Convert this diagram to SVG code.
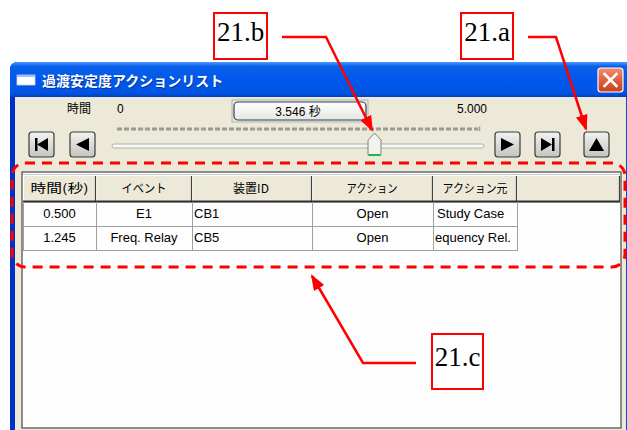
<svg xmlns="http://www.w3.org/2000/svg" width="627" height="430" viewBox="0 0 627 430">
<style>
.jp{font-family:"Noto Sans CJK JP","Noto Sans CJK SC",sans-serif;font-size:12px;fill:#000}
.ui{font-family:"Liberation Sans","Noto Sans CJK JP",sans-serif;font-size:12px;fill:#000}
.cell{font-family:"Liberation Sans","Noto Sans CJK JP",sans-serif;font-size:13px;fill:#000}
.call{font-family:"Liberation Serif","Times New Roman",serif;font-size:27px;fill:#000}
.cbox{fill:#fff;stroke:#f00;stroke-width:2}
.conn{fill:none;stroke:#f00;stroke-width:2.5;marker-end:url(#arr)}
.btn{fill:url(#btnG);stroke:#3a3a3a;stroke-width:1.2}
.glyph{fill:#000}
.hcell{fill:#ECE9D8;stroke:#9a9a90;stroke-width:1}
.grid{stroke:#a0a0a0;stroke-width:1}
</style>
<defs>
<linearGradient id="titleG" x1="0" y1="0" x2="0" y2="1">
<stop offset="0" stop-color="#4A9BFF"/>
<stop offset="0.12" stop-color="#0A61E8"/>
<stop offset="0.5" stop-color="#0058EE"/>
<stop offset="0.88" stop-color="#0054E3"/>
<stop offset="1" stop-color="#0040C0"/>
</linearGradient>
<linearGradient id="frameG" x1="0" y1="0" x2="1" y2="0">
<stop offset="0" stop-color="#0030C8"/>
<stop offset="0.5" stop-color="#1060F0"/>
<stop offset="1" stop-color="#0848D8"/>
</linearGradient>
<linearGradient id="closeG" x1="0" y1="0" x2="0" y2="1">
<stop offset="0" stop-color="#F09070"/>
<stop offset="0.5" stop-color="#E0603C"/>
<stop offset="1" stop-color="#C8401E"/>
</linearGradient>
<linearGradient id="btnG" x1="0" y1="0" x2="0" y2="1">
<stop offset="0" stop-color="#F2F2F0"/>
<stop offset="1" stop-color="#C4C4C0"/>
</linearGradient>
<linearGradient id="dispG" x1="0" y1="0" x2="0" y2="1">
<stop offset="0" stop-color="#FFFFFF"/>
<stop offset="1" stop-color="#E6E6E2"/>
</linearGradient>
<marker id="arr" markerWidth="16" markerHeight="12" refX="14" refY="6" orient="auto" markerUnits="userSpaceOnUse">
<path d="M0,0 L16,6 L0,12 Z" fill="#f00"/>
</marker>
<clipPath id="c5"><rect x="434" y="203" width="82" height="46"/></clipPath>
</defs>

<rect width="627" height="430" fill="#fff"/>

<!-- window -->
<g id="window">
<path d="M10,70 Q10,62 18,62 L627,62 L627,430 L10,430 Z" fill="url(#frameG)"/>
<path d="M10,70 Q10,62 18,62 L627,62 L627,97 L10,97 Z" fill="url(#titleG)"/>
<rect x="15" y="97" width="611" height="333" fill="#ECE9D8"/>
<g id="title-icon">
<rect x="17" y="75" width="18" height="10" fill="#fff" stroke="#c8d8f0" stroke-width="0.8"/>
<rect x="17" y="75" width="18" height="2" fill="#9cc0ff"/>
</g>
<text x="43" y="87" font-family="'Noto Sans CJK JP',sans-serif" font-size="14" font-weight="bold" fill="#0a2a80" opacity="0.7">過渡安定度アクションリスト</text>
<text x="42" y="86" font-family="'Noto Sans CJK JP',sans-serif" font-size="14" font-weight="bold" fill="#fff">過渡安定度アクションリスト</text>
<g id="close-button">
<rect x="598" y="68" width="25" height="24" rx="3" fill="url(#closeG)" stroke="#fff" stroke-width="1.2"/>
<path d="M604.5,74 L616.5,86 M616.5,74 L604.5,86" stroke="#fff" stroke-width="2.6" stroke-linecap="square"/>
</g>
</g>

<!-- toolbar -->
<g id="toolbar">
<text class="jp" x="67" y="113" font-size="14">時間</text>
<text class="ui" x="117" y="113">0</text>
<g id="time-display">
<rect x="232" y="100" width="136" height="22" fill="none" stroke="#b4b2a8" stroke-width="1"/>
<rect x="234" y="102" width="132" height="18" rx="4" fill="url(#dispG)" stroke="#2a4070" stroke-width="1.2"/>
<text class="ui" x="298" y="116" text-anchor="middle">3.546 秒</text>
</g>
<text class="ui" x="457" y="113">5.000</text>
<line x1="117" y1="129" x2="478" y2="129" stroke="#9c9c94" stroke-width="3" stroke-dasharray="5 2"/>
<line x1="479.5" y1="126.5" x2="479.5" y2="131" stroke="#9c9c94" stroke-width="1.5"/>
<rect x="112" y="144" width="372" height="4" rx="2" fill="#F8F8F6" stroke="#b0b0a8" stroke-width="1"/>
<g id="slider-thumb">
<path d="M368,140 L374.5,133 L381,140 L381,155 L368,155 Z" fill="#F2F2EE" stroke="#7c8a7c" stroke-width="1"/>
<line x1="368.5" y1="155" x2="380.5" y2="155" stroke="#22B14C" stroke-width="2"/>
</g>
<g id="btn-first">
<rect class="btn" x="29" y="132" width="25" height="25" rx="3"/>
<rect class="glyph" x="35" y="138" width="2.5" height="13"/>
<path class="glyph" d="M37,144.5 L48,138 L48,151 Z"/>
</g>
<g id="btn-prev">
<rect class="btn" x="70" y="132" width="25" height="25" rx="3"/>
<path class="glyph" d="M76,144.5 L89,138 L89,151 Z"/>
</g>
<g id="btn-next">
<rect class="btn" x="495" y="132" width="25" height="25" rx="3"/>
<path class="glyph" d="M514,144.5 L501,138 L501,151 Z"/>
</g>
<g id="btn-last">
<rect class="btn" x="535" y="132" width="25" height="25" rx="3"/>
<path class="glyph" d="M552,144.5 L541,138 L541,151 Z"/>
<rect class="glyph" x="552" y="138" width="2.5" height="13"/>
</g>
<g id="btn-up">
<rect class="btn" x="584" y="132" width="25" height="25" rx="3"/>
<path class="glyph" d="M596.5,138 L604,151 L589,151 Z"/>
</g>
</g>

<!-- list panel -->
<g id="action-list">
<rect x="22" y="172" width="599" height="256" fill="#FDFDFD" stroke="#6a6a6a" stroke-width="1.5"/>
<g id="table-header">
<rect class="hcell" x="23" y="175" width="73" height="27"/>
<rect class="hcell" x="96" y="175" width="96" height="27"/>
<rect class="hcell" x="192" y="175" width="120" height="27"/>
<rect class="hcell" x="312" y="175" width="121" height="27"/>
<rect class="hcell" x="433" y="175" width="84" height="27"/>
<rect class="hcell" x="517" y="175" width="103" height="27"/>
<path d="M23,175.5 H620 M23.5,175 V202 M96.5,175 V202 M192.5,175 V202 M312.5,175 V202 M433.5,175 V202 M517.5,175 V202" stroke="#fff" stroke-width="1"/>
<path d="M95.5,176 V202 M191.5,176 V202 M311.5,176 V202 M432.5,176 V202 M516.5,176 V202 M619.5,176 V202" stroke="#404040" stroke-width="1.2"/>
<line x1="23" y1="201.5" x2="620" y2="201.5" stroke="#303030" stroke-width="2"/>
<text class="jp" x="59.5" y="193" text-anchor="middle" font-size="13" textLength="58" lengthAdjust="spacingAndGlyphs">時間(秒)</text>
<text class="jp" x="144" y="193" text-anchor="middle" textLength="45" lengthAdjust="spacingAndGlyphs">イベント</text>
<text class="jp" x="251" y="193" text-anchor="middle" font-size="13">装置ID</text>
<text class="jp" x="372" y="193" text-anchor="middle" textLength="51" lengthAdjust="spacingAndGlyphs">アクション</text>
<text class="jp" x="475" y="193" text-anchor="middle" textLength="65" lengthAdjust="spacingAndGlyphs">アクション元</text>
</g>
<g id="table-rows">
<path class="grid" d="M23,226.5 H517 M23,250.5 H517 M23.5,202 V250 M96.5,202 V250 M192.5,202 V250 M312.5,202 V250 M433.5,202 V250 M517.5,202 V251" fill="none"/>
<text class="cell" x="59.5" y="218" text-anchor="middle">0.500</text>
<text class="cell" x="144" y="218" text-anchor="middle">E1</text>
<text class="cell" x="194" y="218">CB1</text>
<text class="cell" x="372.5" y="218" text-anchor="middle">Open</text>
<text class="cell" x="437" y="218">Study Case</text>
<text class="cell" x="59.5" y="242" text-anchor="middle">1.245</text>
<text class="cell" x="144" y="242" text-anchor="middle">Freq. Relay</text>
<text class="cell" x="194" y="242">CB5</text>
<text class="cell" x="372.5" y="242" text-anchor="middle">Open</text>
<text class="cell" x="435" y="242" clip-path="url(#c5)">equency Rel.</text>
</g>
</g>

<!-- highlight region -->
<rect id="region-21c" x="12" y="163" width="613" height="104" rx="13" fill="none" stroke="#f00" stroke-width="3" stroke-dasharray="10 7"/>

<!-- callout connectors -->
<g id="connectors">
<polyline class="conn" points="282,37 326,37 372,130"/>
<polyline class="conn" points="528,37 556,37 586,129"/>
<polyline class="conn" points="416,363 363,363 312,276"/>
</g>

<!-- callout labels -->
<g id="callout-21b">
<rect class="cbox" x="214" y="13" width="53" height="46"/>
<text class="call" x="240.5" y="41" text-anchor="middle">21.b</text>
</g>
<g id="callout-21a">
<rect class="cbox" x="461" y="13" width="52" height="46"/>
<text class="call" x="487" y="41" text-anchor="middle">21.a</text>
</g>
<g id="callout-21c">
<rect class="cbox" x="432" y="334" width="51" height="55"/>
<text class="call" x="457.5" y="366" text-anchor="middle">21.c</text>
</g>
</svg>
